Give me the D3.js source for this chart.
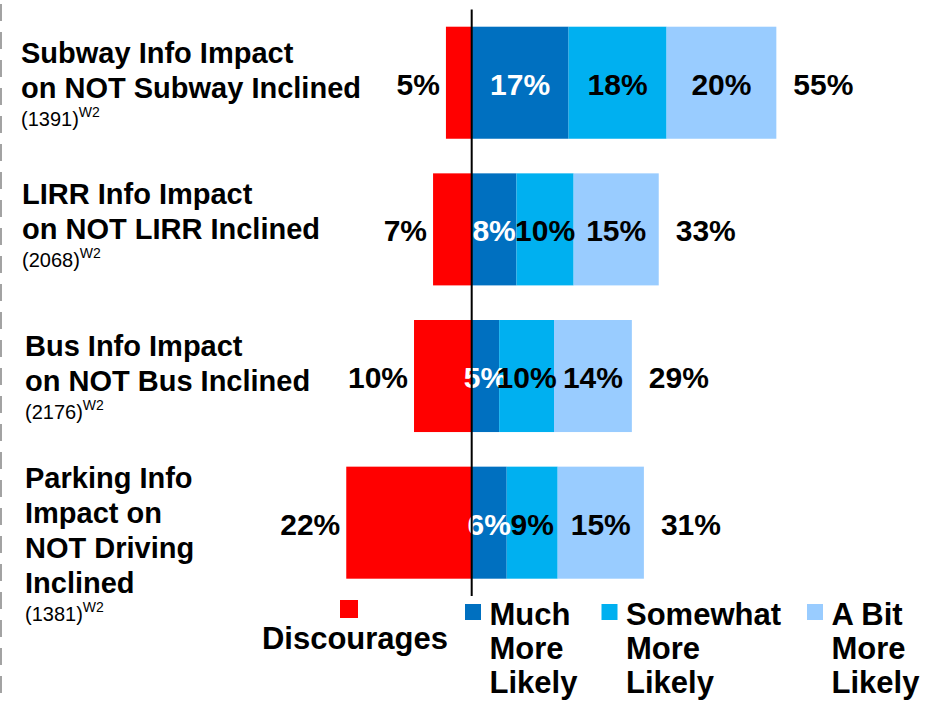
<!DOCTYPE html>
<html>
<head>
<meta charset="utf-8">
<script src="https://cdn.jsdelivr.net/npm/d3@7"></script>
<style>
  body { margin: 0; background: #fff; }
  svg { display: block; font-family: "Liberation Sans", Arial, sans-serif; }
</style>
</head>
<body>
<svg id="chart"></svg>
<script>
// data (percent of respondents)
const categories = ["Subway", "LIRR", "Bus", "Parking"];
const labelLines = [
    ["Subway Info Impact", "on NOT Subway Inclined"],
    ["LIRR Info Impact", "on NOT LIRR Inclined"],
    ["Bus Info Impact", "on NOT Bus Inclined"],
    ["Parking Info", "Impact on", "NOT Driving", "Inclined"]
];
const sampleSizes = ["1391", "2068", "2176", "1381"];
const discourages = [4.6, 6.9, 10.3, 22.4];
const muchMore = [17.3, 8.0, 4.9, 6.25];
const somewhatMore = [17.5, 10.2, 9.8, 9.1];
const aBitMore = [19.6, 15.2, 13.9, 15.4];
const netMore = [55, 33, 29, 31];
const legendLines = [["Discourages"], ["Much", "More", "Likely"], ["Somewhat", "More", "Likely"], ["A Bit", "More", "Likely"]];
const colors = ["#FF0000", "#0070C0", "#00B0F0", "#99CCFF"];

const width = 936;
const height = 702;
const zeroX = 471.7;
const pxPerPct = 5.6;

// label block layout
const labelX = [21, 22, 25, 25];
const labelShift = [-20, -25, -20, -35];
const lineGap = 35;

let svg = d3.select("#chart").attr("width", width).attr("height", height);

let x = d3.scaleLinear()
    .domain([-30, 60])
    .range([zeroX - 30 * pxPerPct, zeroX + 60 * pxPerPct]);

let y = d3.scaleBand()
    .domain(categories)
    .range([9.4, 596])
    .paddingInner(0.236)
    .paddingOuter(0.118);

// dashed edge on the left
svg.append("line")
    .attr("x1", 1).attr("x2", 1)
    .attr("y1", 4).attr("y2", height)
    .attr("stroke", "#8c8c8c")
    .attr("stroke-width", 1.6)
    .attr("stroke-dasharray", "17 11");

// build stacked rows
let rows = categories.map((c, i) => {
    let segs = [];
    segs.push({ key: 0, x0: -discourages[i], x1: 0, v: discourages[i] });
    let acc = 0;
    [muchMore[i], somewhatMore[i], aBitMore[i]].forEach((v, k) => {
        segs.push({ key: k + 1, x0: acc, x1: acc + v, v: v });
        acc += v;
    });
    return { cat: c, i: i, segs: segs, end: acc };
});

let g = svg.append("g");

rows.forEach((row) => {
    let yy = y(row.cat);
    let bw = y.bandwidth();
    let cy = yy + bw / 2;

    g.selectAll(null)
        .data(row.segs)
        .enter()
        .append("rect")
        .attr("x", d => x(d.x0))
        .attr("y", yy)
        .attr("width", d => x(d.x1) - x(d.x0))
        .attr("height", bw)
        .attr("fill", d => colors[d.key]);

    // labels inside the positive segments
    g.selectAll(null)
        .data(row.segs.filter(d => d.key > 0))
        .enter()
        .append("text")
        .attr("x", d => (x(d.x0) + x(d.x1)) / 2)
        .attr("y", cy + 12)
        .attr("text-anchor", "middle")
        .attr("font-size", 30)
        .attr("font-weight", "bold")
        .attr("fill", d => d.key == 1 ? "#fff" : "#000")
        .text(d => Math.round(d.v) + "%");

    // discourages value left of the red bar
    g.append("text")
        .attr("x", x(-discourages[row.i]) - 6)
        .attr("y", cy + 12)
        .attr("text-anchor", "end")
        .attr("font-size", 30)
        .attr("font-weight", "bold")
        .text(Math.round(discourages[row.i]) + "%");

    // net total on the right
    g.append("text")
        .attr("x", x(row.end) + 17)
        .attr("y", cy + 12)
        .attr("font-size", 30)
        .attr("font-weight", "bold")
        .text(netMore[row.i] + "%");

    // category label
    let lines = labelLines[row.i];
    let firstBase = cy + labelShift[row.i];
    let lab = g.append("text")
        .attr("x", labelX[row.i])
        .attr("font-size", 29)
        .attr("font-weight", "bold");
    lines.forEach((ln, k) => {
        lab.append("tspan")
            .attr("x", labelX[row.i])
            .attr("y", firstBase + k * lineGap)
            .text(ln);
    });
    let sBase = firstBase + (lines.length - 1) * lineGap + 28;
    let s = g.append("text")
        .attr("x", labelX[row.i])
        .attr("y", sBase)
        .attr("font-size", 20);
    s.append("tspan").text("(" + sampleSizes[row.i] + ")");
    s.append("tspan")
        .attr("font-size", 14)
        .attr("dy", -9)
        .text("W2");
});

// zero line
svg.append("line")
    .attr("x1", x(0)).attr("x2", x(0))
    .attr("y1", y.range()[0]).attr("y2", y.range()[1])
    .attr("stroke", "#000")
    .attr("stroke-width", 2);

// legend
let leg = svg.append("g");
leg.append("rect")
    .attr("x", 340).attr("y", 600)
    .attr("width", 18).attr("height", 18)
    .attr("fill", colors[0]);
leg.append("text")
    .attr("x", 355).attr("y", 649)
    .attr("text-anchor", "middle")
    .attr("font-size", 31)
    .attr("font-weight", "bold")
    .text(legendLines[0][0]);

const legX = [465, 601.5, 807];
legendLines.slice(1).forEach((parts, k) => {
    leg.append("rect")
        .attr("x", legX[k]).attr("y", 604)
        .attr("width", 16).attr("height", 16)
        .attr("fill", colors[k + 1]);
    let t = leg.append("text")
        .attr("font-size", 31)
        .attr("font-weight", "bold");
    parts.forEach((p, j) => {
        t.append("tspan")
            .attr("x", legX[k] + 24.5)
            .attr("y", 624.5 + j * 34)
            .text(p);
    });
});
</script>
</body>
</html>
